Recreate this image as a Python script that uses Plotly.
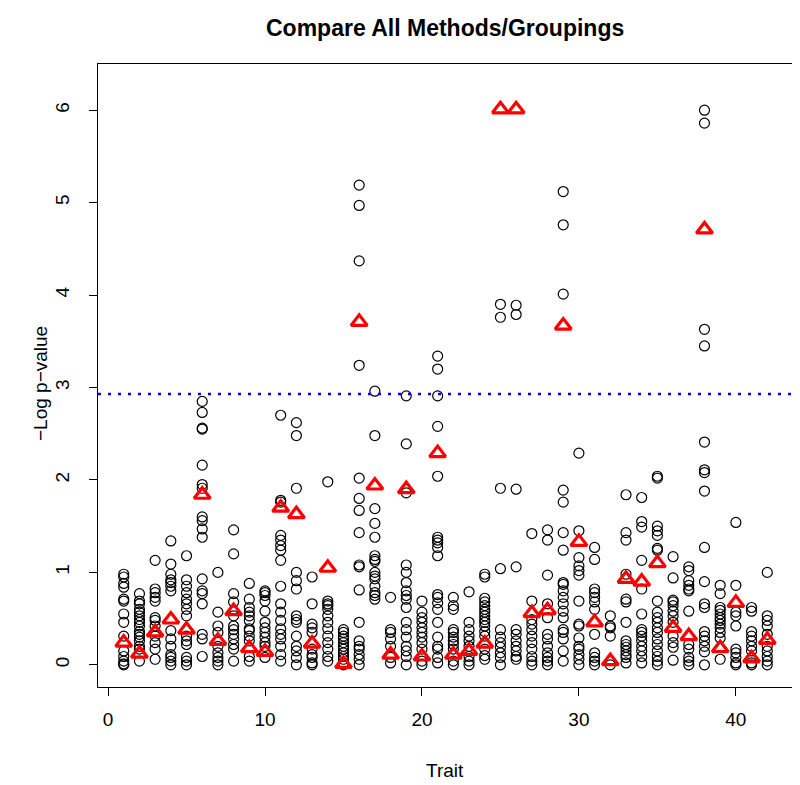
import plotly.graph_objects as go

traits = list(range(1, 43))

circle_values = [
    [0.98,0.95,0.88,0.84,0.71,0.69,0.55,0.46,0.31,0.15,0.09,0.04,0.01,0.0],
    [0.77,0.69,0.66,0.6,0.57,0.53,0.49,0.46,0.42,0.36,0.33,0.3,0.26,0.2,0.17,0.04],
    [1.13,0.82,0.78,0.73,0.69,0.51,0.48,0.42,0.31,0.24,0.17,0.06],
    [1.34,1.09,0.98,0.92,0.89,0.85,0.8,0.37,0.28,0.2,0.11,0.08,0.04,0.0],
    [1.18,0.92,0.85,0.78,0.71,0.66,0.6,0.53,0.31,0.26,0.22,0.08,0.04,0.0],
    [2.85,2.73,2.56,2.55,2.16,1.95,1.91,1.6,1.56,1.47,1.38,0.93,0.8,0.77,0.66,0.33,0.28,0.09],
    [1.0,0.57,0.42,0.35,0.2,0.13,0.08,0.04,0.0],
    [1.46,1.2,0.77,0.68,0.53,0.42,0.38,0.33,0.28,0.22,0.17,0.04],
    [0.88,0.71,0.62,0.57,0.53,0.48,0.39,0.37,0.31,0.26,0.09,0.04],
    [0.8,0.78,0.75,0.69,0.58,0.46,0.4,0.35,0.3,0.24,0.2,0.08],
    [2.7,1.78,1.76,1.4,1.35,1.29,1.24,1.13,0.85,0.66,0.57,0.48,0.39,0.33,0.28,0.2,0.11,0.04],
    [2.62,2.48,1.91,1.0,0.91,0.82,0.53,0.49,0.46,0.31,0.2,0.15,0.08,0.0],
    [0.95,0.66,0.44,0.4,0.35,0.17,0.11,0.08,0.02,0.0],
    [1.98,0.69,0.66,0.64,0.6,0.53,0.46,0.39,0.31,0.24,0.17,0.09,0.04],
    [0.38,0.35,0.31,0.28,0.24,0.2,0.17,0.13,0.09,0.06,0.02,0.0],
    [5.19,4.97,4.37,3.24,2.02,1.8,1.67,1.43,1.08,1.06,0.81,0.46,0.26,0.2,0.17,0.11,0.06,0.0],
    [2.96,2.48,1.69,1.53,1.38,1.18,1.14,1.12,1.0,0.96,0.93,0.85,0.78,0.75,0.71],
    [0.73,0.38,0.35,0.28,0.2,0.08,0.02],
    [2.91,2.39,1.86,1.08,1.0,0.89,0.8,0.75,0.71,0.62,0.46,0.38,0.3,0.2,0.15,0.09,0.0],
    [0.69,0.57,0.51,0.46,0.4,0.35,0.3,0.24,0.17,0.04,0.0],
    [3.34,3.2,2.91,2.58,2.04,1.38,1.35,1.32,1.27,1.18,0.76,0.73,0.67,0.6,0.46,0.3,0.2,0.17,0.08,0.02],
    [0.73,0.64,0.6,0.38,0.35,0.3,0.26,0.22,0.17,0.04,0.0],
    [0.79,0.46,0.38,0.31,0.26,0.2,0.09,0.04,0.0],
    [0.98,0.95,0.72,0.68,0.64,0.6,0.57,0.53,0.49,0.46,0.42,0.36,0.31,0.17,0.1,0.06],
    [3.9,3.76,1.91,1.04,0.38,0.3,0.24,0.19,0.13,0.08,0.0],
    [3.89,3.79,1.9,1.06,0.38,0.33,0.26,0.2,0.15,0.09,0.06],
    [1.42,0.69,0.49,0.44,0.38,0.31,0.24,0.17,0.09,0.04,0.0],
    [1.46,1.35,0.97,0.66,0.51,0.33,0.28,0.2,0.13,0.08,0.04,0.0],
    [5.12,4.76,4.01,1.89,1.76,1.43,1.24,0.89,0.87,0.8,0.73,0.66,0.58,0.51,0.38,0.35,0.28,0.15,0.04],
    [2.29,1.45,1.16,1.07,1.02,0.97,0.69,0.44,0.42,0.29,0.2,0.17,0.11,0.06,0.0],
    [1.27,1.14,0.82,0.78,0.73,0.68,0.6,0.33,0.13,0.08,0.04,0.0],
    [0.53,0.42,0.4,0.31,0.0],
    [1.84,1.43,1.35,0.98,0.71,0.68,0.46,0.26,0.22,0.19,0.15,0.11,0.08,0.02],
    [1.81,1.55,1.49,1.13,0.82,0.55,0.38,0.35,0.31,0.26,0.2,0.15,0.09,0.02],
    [2.04,2.02,1.5,1.45,1.4,1.26,1.24,0.69,0.57,0.51,0.46,0.4,0.35,0.28,0.22,0.15,0.09,0.04,0.0],
    [1.17,0.94,0.7,0.68,0.64,0.58,0.53,0.46,0.31,0.24,0.19,0.05],
    [1.06,1.02,0.91,0.86,0.82,0.8,0.58,0.22,0.17,0.08,0.04,0.0],
    [6.0,5.86,3.63,3.45,2.41,2.11,2.08,1.88,1.27,0.9,0.66,0.62,0.36,0.31,0.26,0.2,0.14,0.0],
    [0.86,0.77,0.62,0.59,0.55,0.51,0.48,0.44,0.4,0.35,0.29,0.06],
    [1.54,0.86,0.57,0.53,0.42,0.17,0.13,0.08,0.02,0.0],
    [0.62,0.58,0.36,0.31,0.26,0.2,0.15,0.02,0.0],
    [1.0,0.53,0.48,0.42,0.33,0.2,0.15,0.09,0.04,0.0],
]

triangle_values = [0.24,0.12,0.35,0.49,0.38,1.84,0.26,0.58,0.18,0.14,
                   1.70,1.63,0.23,1.05,0.01,3.71,1.94,0.11,1.90,0.09,
                   2.29,0.11,0.15,0.23,6.01,6.01,0.56,0.59,3.67,1.33,
                   0.46,0.04,0.93,0.90,1.10,0.40,0.31,4.71,0.18,0.67,
                   0.07,0.27]

threshold = 2.93

x_ticks = [0, 10, 20, 30, 40]
y_ticks = [0, 1, 2, 3, 4, 5, 6]

cx, cy = [], []
for t, vals in zip(traits, circle_values):
    for v in vals:
        cx.append(t)
        cy.append(v)

FONT = "Liberation Sans, Arial, Helvetica, sans-serif"
FS = 19

fig = go.Figure()
fig.add_trace(go.Scatter(
    x=cx, y=cy, mode="markers",
    marker=dict(symbol="circle-open", size=10, color="black",
                line=dict(color="black", width=1.2)),
    showlegend=False, hoverinfo="skip"))
fig.add_trace(go.Scatter(
    x=traits, y=triangle_values, mode="markers",
    marker=dict(symbol="triangle-up-open", size=14, color="#ff0000",
                line=dict(color="#ff0000", width=3.2)),
    showlegend=False, hoverinfo="skip"))

fig.add_shape(type="line", xref="paper", x0=0, x1=1, yref="y",
              y0=threshold, y1=threshold,
              line=dict(color="#0000ff", width=2.5, dash="3px,7px"))

# page body has an 8px default margin: figure occupies page x 8..800, y 8..785
PX0, PY0 = 8, 8
BOX_L, BOX_R, BOX_T, BOX_B = 98, 793, 64, 687
W, H = 800 - PX0, 785 - PY0
L = BOX_L - PX0
T = BOX_T - PY0
R = (PX0 + W) - BOX_R
B = (PY0 + H) - BOX_B
PW, PH = BOX_R - BOX_L, BOX_B - BOX_T

def px(xp):
    return (xp - BOX_L) / PW

def py(yp):
    return (BOX_B - yp) / PH

fig.update_layout(
    width=W, height=H,
    margin=dict(l=L, r=R, t=T, b=B, pad=0),
    paper_bgcolor="white", plot_bgcolor="white",
    font=dict(family=FONT, size=FS, color="black"),
    xaxis=dict(range=[-0.64, 43.64], tickvals=x_ticks, ticks="outside",
               ticklen=8, tickwidth=1, tickcolor="black",
               showline=True, linecolor="black", linewidth=1, mirror=True,
               showgrid=False, zeroline=False, ticklabelstandoff=7,
               tickfont=dict(size=FS, family=FONT)),
    yaxis=dict(range=[-0.24, 6.50], tickvals=y_ticks, ticks="outside",
               ticklen=8, tickwidth=1, tickcolor="black",
               showline=True, linecolor="black", linewidth=1, mirror=True,
               showgrid=False, zeroline=False, tickangle=-90,
               ticklabelstandoff=12,
               tickfont=dict(size=FS, family=FONT)),
    annotations=[
        dict(text="<b>Compare All Methods/Groupings</b>", xref="paper", yref="paper",
             x=px(445), y=py(28), xanchor="center", yanchor="middle",
             showarrow=False, font=dict(size=23, family=FONT)),
        dict(text="Trait", xref="paper", yref="paper",
             x=px(445), y=py(770), xanchor="center", yanchor="middle",
             showarrow=False, font=dict(size=FS, family=FONT)),
        dict(text="\u2212Log p\u2212value", xref="paper", yref="paper",
             x=px(40), y=py(383), xanchor="center", yanchor="middle",
             textangle=-90, showarrow=False, font=dict(size=FS, family=FONT)),
    ],
)

fig.write_html("out.html")
